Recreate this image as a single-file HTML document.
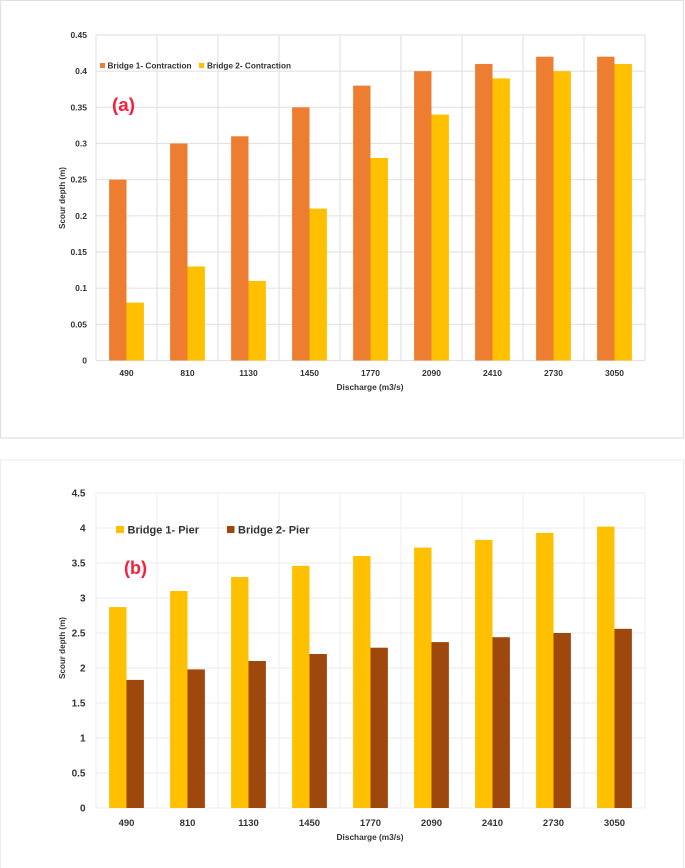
<!DOCTYPE html>
<html lang="en">
<head>
<meta charset="utf-8">
<title>Scour depth vs discharge</title>
<style>
html,body{margin:0;padding:0;background:#fff;width:685px;height:868px;overflow:hidden}
svg{display:block;filter:blur(0.35px)}
text{font-family:"Liberation Sans",sans-serif;font-weight:bold;fill:#333}
</style>
</head>
<body>
<svg id="fig" width="685" height="868" viewBox="0 0 685 868" xmlns="http://www.w3.org/2000/svg">
  <rect x="0.5" y="0.5" width="683" height="437.5" fill="#fff" stroke="#e0e0e0" stroke-width="1.2"/>
  <rect x="0.5" y="460" width="683" height="410" fill="#fff" stroke="#eeeeee" stroke-width="1.2"/>
  <g id="panel-a"></g>
  <g id="panel-b"></g>

  <g>
    <rect x="100" y="63" width="5" height="5" fill="#ed7d31"/>
    <text x="107.5" y="68.5" font-size="8.5" textLength="84" lengthAdjust="spacingAndGlyphs">Bridge 1- Contraction</text>
    <rect x="199" y="63" width="5" height="5" fill="#ffc000"/>
    <text x="207" y="68.5" font-size="8.5" textLength="84" lengthAdjust="spacingAndGlyphs">Bridge 2- Contraction</text>
  </g>
  <text x="112" y="111" font-size="18" style="fill:#f5203c" textLength="23" lengthAdjust="spacingAndGlyphs">(a)</text>
  <text x="370" y="390" font-size="8" text-anchor="middle" textLength="67" lengthAdjust="spacingAndGlyphs">Discharge (m3/s)</text>
  <text transform="translate(65,198) rotate(-90)" font-size="8" text-anchor="middle" textLength="62" lengthAdjust="spacingAndGlyphs">Scour depth (m)</text>

  <g>
    <rect x="116" y="526" width="8" height="7" fill="#ffc000"/>
    <text x="127.5" y="533.5" font-size="11" textLength="71.5" lengthAdjust="spacingAndGlyphs">Bridge 1- Pier</text>
    <rect x="227" y="526" width="7.5" height="7" fill="#9e480e"/>
    <text x="238" y="533.5" font-size="11" textLength="71.5" lengthAdjust="spacingAndGlyphs">Bridge 2- Pier</text>
  </g>
  <text x="124" y="574" font-size="18" style="fill:#f5203c" textLength="23" lengthAdjust="spacingAndGlyphs">(b)</text>
  <text x="370" y="840" font-size="8" text-anchor="middle" textLength="67" lengthAdjust="spacingAndGlyphs">Discharge (m3/s)</text>
  <text transform="translate(65,648) rotate(-90)" font-size="8" text-anchor="middle" textLength="62" lengthAdjust="spacingAndGlyphs">Scour depth (m)</text>
</svg>
<script>
var categories = ["490","810","1130","1450","1770","2090","2410","2730","3050"];
var contractionBridge1 = [0.25,0.3,0.31,0.35,0.38,0.4,0.41,0.42,0.42];
var contractionBridge2 = [0.08,0.13,0.11,0.21,0.28,0.34,0.39,0.4,0.41];
var contractionTicks = ["0","0.05","0.1","0.15","0.2","0.25","0.3","0.35","0.4","0.45"];
var pierBridge1 = [2.87,3.1,3.3,3.46,3.6,3.72,3.83,3.93,4.02];
var pierBridge2 = [1.83,1.98,2.1,2.2,2.29,2.37,2.44,2.5,2.56];
var pierTicks = ["0","0.5","1","1.5","2","2.5","3","3.5","4","4.5"];

var SVGNS = "http://www.w3.org/2000/svg";

function makeEl(tag, attrs, parent, txt) {
  var el = document.createElementNS(SVGNS, tag);
  for (var k in attrs) { el.setAttribute(k, attrs[k]); }
  if (txt !== undefined) { el.textContent = txt; }
  parent.appendChild(el);
  return el;
}

function drawPanel(cfg) {
  var g = document.getElementById(cfg.id);
  var left = 96, right = 645;
  var top = cfg.top, bottom = cfg.bottom;
  var maxY = parseFloat(cfg.ticks[cfg.ticks.length - 1]);
  var band = (right - left) / cfg.cats.length;
  var barW = band * 0.285;
  function yScale(v) { return bottom - (v / maxY) * (bottom - top); }
  function xScale(i) { return left + band * (i + 0.5); }

  cfg.ticks.forEach(function (t) {
    var y = yScale(parseFloat(t));
    var line = makeEl("line", {x1: left, x2: right, y1: y, y2: y, stroke: cfg.grid, "stroke-width": 1.2}, g);
    
    
    var lab = makeEl("text", {x: cfg.tickX, y: y + cfg.tickSize * 0.36, "font-size": cfg.tickSize, "text-anchor": "end"}, g, t);
    
    
  });

  for (var n = 0; n <= cfg.cats.length; n++) {
    var vx = left + band * n;
    var vl = makeEl("line", {x1: vx, x2: vx, y1: top, y2: bottom, stroke: cfg.grid, "stroke-width": 1.2}, g);
    
    
  }

  cfg.cats.forEach(function (c, i) {
    var cx = xScale(i);
    var y1 = yScale(cfg.s1[i]);
    var y2 = yScale(cfg.s2[i]);
    var b1 = makeEl("rect", {x: cx - barW, y: y1, width: barW, height: bottom - y1, fill: cfg.c1}, g);
    
    
    var b2 = makeEl("rect", {x: cx, y: y2, width: barW, height: bottom - y2, fill: cfg.c2}, g);
    
    
    var lab = makeEl("text", {x: cx, y: cfg.catY, "font-size": cfg.catSize, "text-anchor": "middle"}, g, c);
    
    
  });
}

drawPanel({id: "panel-a", top: 35, bottom: 360.5, cats: categories, s1: contractionBridge1, s2: contractionBridge2, ticks: contractionTicks, c1: "#ed7d31", c2: "#ffc000", grid: "#e3e3e3", tickX: 87, tickSize: 8.5, catY: 376, catSize: 8.5});
drawPanel({id: "panel-b", top: 493, bottom: 808, cats: categories, s1: pierBridge1, s2: pierBridge2, ticks: pierTicks, c1: "#ffc000", c2: "#9e480e", grid: "#efefef", tickX: 85.5, tickSize: 10, catY: 826, catSize: 9.5});
</script>
</body>
</html>
